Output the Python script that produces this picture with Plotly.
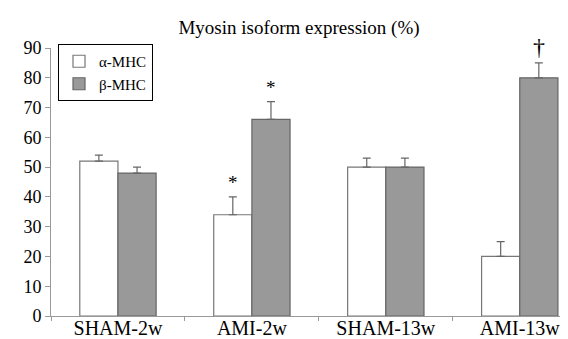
import plotly.graph_objects as go

categories = ["SHAM-2w", "AMI-2w", "SHAM-13w", "AMI-13w"]
alpha_vals = [52, 34, 50, 20]
alpha_err = [2, 6, 3, 5]
beta_vals = [48, 66, 50, 80]
beta_err = [2, 6, 3, 5]
alpha_marks = ["", "*", "", ""]
beta_marks = ["", "*", "", "†"]
y_ticks = [0, 10, 20, 30, 40, 50, 60, 70, 80, 90]

W, H = 568, 339
L, T, B = 43, 40, 31
FONT = "Liberation Serif, Times New Roman, serif"

fig = go.Figure()
fig.add_trace(go.Bar(
    name="α-MHC", x=categories, y=alpha_vals,
    marker=dict(color="white", line=dict(color="#777777", width=1.2)),
    error_y=dict(type="data", array=alpha_err, arrayminus=[0]*4, symmetric=False,
                 color="#666666", thickness=1.2, width=4),
))
fig.add_trace(go.Bar(
    name="β-MHC", x=categories, y=beta_vals,
    marker=dict(color="#999999", line=dict(color="#666666", width=1.2)),
    error_y=dict(type="data", array=beta_err, arrayminus=[0]*4, symmetric=False,
                 color="#666666", thickness=1.2, width=4),
))

off = 0.142
for i, c in enumerate(categories):
    if alpha_marks[i]:
        fig.add_annotation(x=i - off, y=alpha_vals[i] + alpha_err[i], text=alpha_marks[i],
                           showarrow=False, yshift=14, font=dict(family=FONT, size=19, color="black"))
    if beta_marks[i]:
        sz = 24 if beta_marks[i] == "†" else 19
        fig.add_annotation(x=i + off, y=beta_vals[i] + beta_err[i], text=beta_marks[i],
                           showarrow=False, yshift=16 if sz == 24 else 14,
                           font=dict(family=FONT, size=sz, color="black"))

fig.update_layout(
    width=W, height=H,
    margin=dict(l=L, r=0, t=T, b=B),
    paper_bgcolor="white", plot_bgcolor="white",
    barmode="group", bargap=0.43, bargroupgap=0,
    font=dict(family=FONT, size=18, color="black"),
    title=dict(text="Myosin isoform expression (%)", x=291 / W, xanchor="center",
               y=1 - 19 / H, yanchor="middle", font=dict(family=FONT, size=19, color="black")),
    showlegend=True,
    legend=dict(x=(50 - L) / (W - L), y=1.0 + 4 / (H - T - B), xanchor="left", yanchor="top",
                bordercolor="black", borderwidth=1, bgcolor="white",
                font=dict(family=FONT, size=15, color="black"),
                tracegroupgap=0, itemwidth=30),
)
fig.update_xaxes(
    range=[-0.5, 3.42], showline=True, linecolor="#999999", linewidth=1,
    ticks="outside", tickson="boundaries", ticklen=4, tickcolor="#999999",
    showgrid=False, tickfont=dict(family=FONT, size=20, color="black"),
    ticklabelstandoff=-6,
)
fig.update_yaxes(
    range=[0, 90], tickvals=y_ticks, showline=True, linecolor="#999999", linewidth=1,
    ticks="outside", ticklen=5, tickcolor="#999999", showgrid=False, zeroline=False,
    tickfont=dict(family=FONT, size=18, color="black"),
)

fig.write_html("out.html")
